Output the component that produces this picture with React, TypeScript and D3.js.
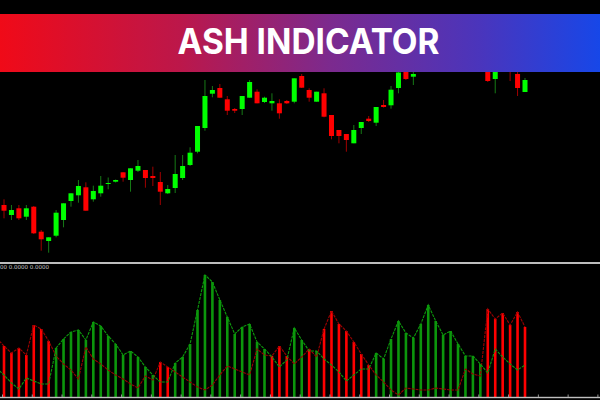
import React from "react";
import * as d3 from "d3";

// ---- Price candles (arbitrary price units) ----
const opens = [57, 47, 53.7, 45.3, 55.3, 30.3, 21, 26.3, 42, 61,
  66.7, 74.7, 62.7, 68.7, 78.5, 80.3, 89.7, 82, 91.3, 92,
  86, 80, 68.7, 74, 84, 97, 110.3, 134, 168.3, 174,
  162.7, 153, 153, 164.3, 170.3, 160, 158.7, 158.7, 161, 160.3,
  186, 172, 160.3, 168.7, 147, 132, 128, 118.7, 134, 143.3,
  139.3, 157, 156.7, 174, 196, 185.3, 196, 206, 216, 208,
  218, 206, 212, 202, 210, 200, 183, 204, 202, 188, 170];
const highs = [62.7, 57, 57, 57, 56, 32, 24.7, 52, 58.7, 68.7,
  82, 79.7, 76.3, 86, 84.5, 82.5, 89.7, 93.7, 102, 92,
  95.3, 90, 77, 107, 107, 114.7, 136, 182, 176, 178,
  166, 154, 166, 182, 172.7, 165.3, 168.7, 162.7, 162, 183.7,
  188, 173.7, 170.3, 173.7, 147, 132, 128, 137, 140, 146,
  155, 162, 176, 196, 202, 198, 214, 224, 222, 226,
  224, 222, 218, 216, 214, 207, 204, 210, 208, 192, 184];
const lows = [43.7, 42, 42, 42, 28, 11.3, 9.3, 24.7, 34.7, 55.3,
  59.3, 51.3, 60.3, 65.3, 72.7, 79.5, 80.3, 70.3, 90, 74.3,
  76, 57, 68, 69, 82, 96, 108.7, 131.3, 164.7, 164.3,
  147, 149, 147, 164.3, 158.7, 159, 151.3, 143.3, 158, 158.7,
  174, 160.3, 160.3, 144.7, 122.7, 118.7, 110.3, 118.7, 128, 140,
  136, 154.5, 153.3, 168.7, 182, 177, 192, 202, 200, 204,
  198, 196, 194, 196, 192, 180, 168.7, 192, 181, 166, 170];
const closes = [51.3, 52, 43.7, 53.7, 28.7, 22.7, 24.7, 49.3, 58.7, 68.7,
  76, 51.3, 71, 76.3, 79, 82, 84.3, 93.7, 96, 84,
  84, 70.3, 73, 88, 96, 109.3, 136, 166, 172, 164.3,
  151.3, 151.3, 166, 180, 158.7, 164.3, 161, 148.7, 158.7, 183.7,
  174.3, 164.3, 170.3, 145.3, 126, 126, 122, 132, 140, 141,
  155, 155, 172.3, 189.5, 183, 188, 207, 217, 210, 218,
  206, 212, 202, 210, 200, 181, 196, 196, 192, 174, 182];

// ---- ASH indicator: bulls / bears strength (first value is the bar before the first visible one) ----
const bulls = [29, 22, 14, 8, 19, 16, 13, 13, 49, 58, 65, 67, 57, 75, 71, 61, 53, 42, 46, 40,
  30, 22, 15, 15, 34, 40, 53, 87, 122, 115, 97, 80, 63, 70, 73, 55, 48, 40, 30, 37,
  69, 57, 46, 46, 38, 32, 25, 16, 22, 28, 28, 44, 38, 58, 76, 64, 59, 73, 92, 76,
  62, 66, 53, 41, 41, 33, 24, 48, 40, 33, 27, 32];
const bears = [59, 51, 44, 49, 42, 72, 68, 56, 41, 33, 27, 18, 50, 38, 33, 27, 22, 18, 13, 9,
  21, 17, 35, 30, 25, 20, 15, 10, 7, 12, 22, 31, 28, 25, 22, 48, 42, 41, 51, 41,
  33, 40, 48, 40, 68, 86, 73, 66, 55, 43, 32, 22, 15, 7, 2, 9, 8, 7, 7, 9,
  8, 7, 7, 28, 23, 21, 88, 78, 84, 72, 85, 70];

const title = "ASH INDICATOR";
const indicatorLabel = "00 0.0000 0.0000";

export default function App() {
  const W = 600, H = 400;
  const x = d3.scaleLinear().domain([0, 70]).range([4, 525]);
  const yP = d3.scaleLinear().domain([0, 190]).range([262, 72]);
  const yI = d3.scaleLinear().domain([0, 135]).range([397, 262]);

  const bullLine = d3.line<number>().x((_, i) => x(i - 1)).y((d) => yI(d));
  const bearLine = d3.line<number>().x((_, i) => x(i - 1)).y((d) => yI(d));

  const upBody = "#00ff00", downBody = "#ff0000";
  const upWick = "#167a16", downWick = "#a00000";

  const tickXs = d3.range(0, 21).map((k) => 2.5 + k * 29.77).filter((v) => v < 600);

  return (
    <svg width={W} height={H} style={{ position: "absolute", left: 0, top: 0, background: "#000" }}>
      <defs>
        <clipPath id="priceClip">
          <rect x={0} y={72} width={W} height={190} />
        </clipPath>
        <linearGradient id="bannerGrad" x1="0" y1="0" x2="1" y2="0">
          <stop offset="0" stopColor="#f00a18" />
          <stop offset="0.3" stopColor="#bc174a" />
          <stop offset="0.55" stopColor="#7c2a8e" />
          <stop offset="0.8" stopColor="#4a35bc" />
          <stop offset="1" stopColor="#1747e8" />
        </linearGradient>
      </defs>
      <rect x={0} y={0} width={W} height={H} fill="#000" />

      {/* candles */}
      <g clipPath="url(#priceClip)">
        {opens.map((o, i) => {
          const c = closes[i];
          const up = c >= o;
          const cx = x(i);
          const top = yP(Math.max(o, c));
          const bot = yP(Math.min(o, c));
          return (
            <g key={i}>
              <line x1={cx} x2={cx} y1={yP(highs[i])} y2={yP(lows[i])} stroke={up ? upWick : downWick} strokeWidth={1} />
              <rect x={cx - 2.5} y={top} width={5} height={Math.max(1, bot - top)} fill={up ? upBody : downBody} />
            </g>
          );
        })}
      </g>

      {/* banner */}
      <rect x={0} y={14} width={W} height={58} fill="url(#bannerGrad)" />
      <text x={308.5} y={53.5} textAnchor="middle" fill="#fff" fontFamily="Inter, 'Open Sans', sans-serif"
        fontWeight={700} fontSize={35} textLength={262} lengthAdjust="spacingAndGlyphs">{title}</text>

      {/* separator */}
      <rect x={0} y={262} width={W} height={2} fill="#bdbdbd" />
      <text x={0} y={269.3} fill="#c8c8c8" fontSize={5.5} fontFamily="'DejaVu Sans', sans-serif">{indicatorLabel}</text>

      {/* histogram */}
      {bulls.map((b, i) => {
        const be = bears[i];
        const v = Math.max(b, be);
        const green = b >= be;
        return (
          <rect key={i} x={x(i - 1) - 1.3} y={yI(v)} width={2.6} height={yI(0) - yI(v)}
            fill={green ? "#0c960c" : "#ff0000"} />
        );
      })}

      {/* lines */}
      <path d={bearLine(bears) || ""} fill="none" stroke="#9a0000" strokeWidth={1.1} strokeDasharray="3 1" />
      <path d={bullLine(bulls) || ""} fill="none" stroke="#0c9a0c" strokeWidth={1.1} strokeDasharray="3 1" />

      {/* bottom axis line and ticks */}
      <rect x={0} y={396.8} width={W} height={1.4} fill="#c0c0c0" />
      {tickXs.map((t, k) => (
        <line key={k} x1={t} x2={t} y1={394.5} y2={397} stroke="#9a9a9a" strokeWidth={1} />
      ))}
    </svg>
  );
}
